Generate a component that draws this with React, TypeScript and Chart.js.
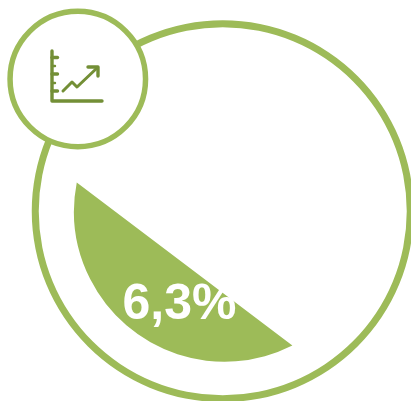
import React, { useEffect, useRef } from "react";
import { Chart, registerables } from "chart.js";

Chart.register(...registerables);

const ringValues = [100];
const gapValues = [100];
const segmentValues = [35.5, 64.5];
const segmentLabel = "6,3%";
const green = "#9DBB58";
const iconGreen = "#738F36";

const chordPlugin = {
  id: "chord",
  beforeDatasetDraw(chart: any, args: any) {
    if (args.index !== 2) return;
    const arc = args.meta.data[0];
    const { x, y, outerRadius, startAngle, endAngle } = arc;
    const ctx = chart.ctx;
    ctx.save();
    ctx.beginPath();
    ctx.arc(x + 1.75, y, outerRadius, startAngle, endAngle);
    ctx.closePath();
    ctx.fillStyle = green;
    ctx.fill();
    ctx.fillStyle = "#FFFFFF";
    ctx.font = "bold 50px 'Liberation Sans'";
    ctx.textAlign = "center";
    ctx.textBaseline = "alphabetic";
    ctx.fillText(segmentLabel, 179.5, 319);
    ctx.restore();
    return false;
  },
};

const badgePlugin = {
  id: "badge",
  afterDraw(chart: any) {
    const ctx = chart.ctx;
    ctx.save();
    ctx.beginPath();
    ctx.arc(77.8, 79, 67.75, 0, Math.PI * 2);
    ctx.fillStyle = "#FFFFFF";
    ctx.fill();
    ctx.lineWidth = 5.5;
    ctx.strokeStyle = green;
    ctx.stroke();

    ctx.strokeStyle = iconGreen;
    ctx.lineCap = "round";
    ctx.lineJoin = "round";
    ctx.lineWidth = 3.4;
    const line = (pts: number[][]) => {
      ctx.beginPath();
      pts.forEach(([px, py], i) => (i ? ctx.lineTo(px, py) : ctx.moveTo(px, py)));
      ctx.stroke();
    };
    line([[52, 51], [52, 101], [102, 101]]);
    line([[52, 57.5], [57.5, 57.5]]);
    line([[52, 74], [57.5, 74]]);
    line([[52, 91], [57.5, 91]]);
    ctx.lineWidth = 2.4;
    line([[52, 66], [55, 66]]);
    line([[52, 83], [55, 83]]);
    ctx.lineWidth = 3;
    line([[63, 91], [72, 82], [77, 87], [97, 68]]);
    ctx.lineWidth = 3.4;
    line([[88, 67], [98, 67], [98, 76]]);
    ctx.restore();
  },
};

export default function App() {
  const ref = useRef<HTMLCanvasElement>(null);
  useEffect(() => {
    document.body.style.margin = "0";
    const chart = new Chart(ref.current!, {
      type: "doughnut",
      data: {
        labels: ["Share", "Rest"],
        datasets: [
          { data: ringValues, backgroundColor: [green], borderWidth: 0, weight: 7 },
          { data: gapValues, backgroundColor: ["rgba(0,0,0,0)"], borderWidth: 0, weight: 33.5 },
          { data: segmentValues, backgroundColor: [green, "rgba(0,0,0,0)"], borderWidth: 0, weight: 150.5, rotation: 153.2 },
        ],
      } as any,
      options: {
        responsive: false,
        animation: false,
        cutout: 0,
        hoverOffset: 0,
        layout: { padding: { left: 31.75, right: 0.25, top: 20.25, bottom: 0.75 } },
        plugins: { legend: { display: false }, tooltip: { enabled: false } },
      } as any,
      plugins: [chordPlugin, badgePlugin],
    });
    return () => chart.destroy();
  }, []);
  return (
    <div style={{ width: 411, height: 401, overflow: "hidden" }}>
      <canvas ref={ref} width={414} height={403} style={{ display: "block" }} />
    </div>
  );
}
